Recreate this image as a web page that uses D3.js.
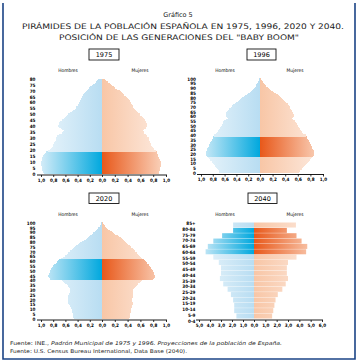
<!DOCTYPE html>
<html>
<head>
<meta charset="utf-8">
<script src="https://cdn.jsdelivr.net/npm/d3@7"></script>
<style>
body { margin: 0; background: #fff; }
svg { display: block; }
</style>
</head>
<body>
<svg id="grafico"></svg>
<script>
// Datos: porcentaje de población por año de edad (índice = edad)
const hombres1975 = [0.95,0.97,0.97,0.98,0.98,0.99,0.99,1.00,1.00,1.00,
	1.00,0.99,0.99,0.98,0.97,0.96,0.95,0.93,0.91,0.88,
	0.86,0.84,0.82,0.81,0.80,0.79,0.78,0.77,0.76,0.75,
	0.76,0.74,0.73,0.70,0.66,0.64,0.62,0.65,0.68,0.70,
	0.72,0.70,0.71,0.70,0.69,0.66,0.63,0.61,0.59,0.57,
	0.56,0.52,0.50,0.48,0.45,0.43,0.42,0.40,0.39,0.38,
	0.38,0.36,0.35,0.34,0.33,0.32,0.31,0.30,0.28,0.26,
	0.25,0.23,0.21,0.19,0.16,0.14,0.12,0.10,0.09,0.06];
const mujeres1975 = [0.89,0.89,0.89,0.90,0.90,0.91,0.92,0.92,0.92,0.92,
	0.92,0.91,0.90,0.89,0.88,0.87,0.87,0.86,0.86,0.84,
	0.82,0.81,0.79,0.78,0.77,0.76,0.75,0.75,0.74,0.73,
	0.73,0.71,0.70,0.68,0.66,0.65,0.64,0.66,0.68,0.69,
	0.71,0.70,0.70,0.69,0.68,0.67,0.65,0.64,0.62,0.60,
	0.59,0.56,0.55,0.53,0.51,0.50,0.49,0.48,0.47,0.45,
	0.45,0.43,0.42,0.40,0.39,0.37,0.35,0.33,0.31,0.29,
	0.28,0.24,0.21,0.19,0.16,0.14,0.12,0.09,0.07,0.05];

const hombres1996 = [0.69,0.70,0.70,0.71,0.72,0.73,0.74,0.76,0.77,0.78,
	0.79,0.81,0.82,0.84,0.85,0.87,0.88,0.89,0.91,0.92,
	0.92,0.92,0.91,0.90,0.90,0.89,0.89,0.88,0.87,0.87,
	0.86,0.85,0.84,0.83,0.82,0.81,0.80,0.80,0.79,0.78,
	0.78,0.76,0.74,0.73,0.72,0.71,0.69,0.68,0.67,0.66,
	0.65,0.64,0.63,0.62,0.62,0.61,0.58,0.55,0.54,0.56,
	0.58,0.58,0.58,0.58,0.57,0.56,0.55,0.53,0.52,0.50,
	0.48,0.47,0.45,0.43,0.41,0.40,0.38,0.36,0.34,0.32,
	0.30,0.27,0.25,0.22,0.20,0.17,0.15,0.13,0.12,0.10,
	0.08,0.07,0.07,0.06,0.06,0.05,0.04,0.03,0.02,0.02,0.01];
const mujeres1996 = [0.62,0.63,0.64,0.65,0.66,0.67,0.69,0.70,0.72,0.73,
	0.75,0.76,0.78,0.79,0.80,0.81,0.82,0.84,0.85,0.86,
	0.86,0.86,0.86,0.85,0.85,0.84,0.83,0.83,0.82,0.81,
	0.81,0.80,0.79,0.78,0.77,0.76,0.75,0.75,0.74,0.73,
	0.73,0.71,0.69,0.67,0.66,0.65,0.64,0.63,0.62,0.61,
	0.60,0.59,0.58,0.57,0.56,0.55,0.53,0.51,0.50,0.52,
	0.54,0.54,0.54,0.53,0.52,0.51,0.50,0.49,0.48,0.48,
	0.47,0.46,0.45,0.44,0.42,0.41,0.40,0.38,0.37,0.35,
	0.34,0.32,0.30,0.28,0.25,0.22,0.20,0.18,0.16,0.15,
	0.13,0.12,0.10,0.09,0.08,0.07,0.05,0.04,0.03,0.02,0.01];

const hombres2020 = [0.46,0.47,0.47,0.47,0.48,0.48,0.48,0.49,0.49,0.50,
	0.50,0.51,0.51,0.52,0.53,0.54,0.55,0.55,0.55,0.55,
	0.55,0.55,0.55,0.55,0.55,0.54,0.54,0.53,0.53,0.52,
	0.52,0.52,0.53,0.54,0.55,0.56,0.58,0.60,0.62,0.64,
	0.66,0.85,0.86,0.87,0.88,0.88,0.87,0.87,0.86,0.85,
	0.85,0.84,0.83,0.82,0.81,0.80,0.78,0.76,0.74,0.73,
	0.72,0.70,0.69,0.67,0.64,0.61,0.60,0.58,0.56,0.55,
	0.53,0.52,0.50,0.48,0.46,0.45,0.42,0.40,0.38,0.36,
	0.33,0.30,0.27,0.25,0.23,0.22,0.20,0.18,0.17,0.15,
	0.14,0.12,0.10,0.09,0.07,0.06,0.04,0.03,0.02,0.02,0.01];
const mujeres2020 = [0.42,0.43,0.43,0.43,0.44,0.44,0.44,0.45,0.45,0.46,
	0.46,0.46,0.47,0.47,0.47,0.48,0.48,0.48,0.47,0.47,
	0.47,0.47,0.48,0.48,0.48,0.48,0.49,0.49,0.49,0.49,
	0.49,0.49,0.50,0.52,0.53,0.54,0.56,0.57,0.59,0.61,
	0.63,0.80,0.82,0.83,0.83,0.83,0.82,0.82,0.81,0.80,
	0.79,0.78,0.77,0.76,0.75,0.74,0.73,0.71,0.70,0.69,
	0.67,0.66,0.64,0.63,0.61,0.60,0.58,0.56,0.55,0.54,
	0.52,0.51,0.50,0.48,0.46,0.45,0.43,0.41,0.39,0.38,
	0.36,0.34,0.33,0.31,0.29,0.27,0.25,0.23,0.21,0.19,
	0.17,0.15,0.12,0.09,0.08,0.07,0.05,0.04,0.03,0.02,0.01];

// 2040: grupos quinquenales
const grupos2040 = ["0-4","5-9","10-14","15-19","20-24","25-29","30-34","35-39","40-44",
	"45-49","50-54","55-59","60-64","65-69","70-74","75-79","80-84","85+"];
const hombres2040 = [1.6,1.8,1.8,1.9,2.1,2.4,2.8,3.1,3.0,3.0,3.2,3.7,4.4,4.2,3.7,2.9,1.9,1.9];
const mujeres2040 = [1.6,1.7,1.8,1.9,2.1,2.5,2.8,3.0,2.9,2.9,3.0,3.75,4.6,4.7,4.2,3.75,2.9,3.7];
const boom2040 = ["60-64","65-69","70-74","75-79","80-84"];

// Etiquetas de ejes
const edades80 = [0,5,10,15,20,25,30,35,40,45,50,55,60,65,70,75,80];
const edades100 = [0,5,10,15,20,25,30,35,40,45,50,55,60,65,70,75,80,85,90,95,100];
const ticksUno = [-1,-0.8,-0.6,-0.4,-0.2,0,0.2,0.4,0.6,0.8,1];
const ticksSeis = [-5,-4,-3,-2,-1,0,1,2,3,4,5,6];

const WIDTH = 360, HEIGHT = 364;
const FUENTE = "'DejaVu Sans', sans-serif";
const FUENTE_COND = "'DejaVu Sans Condensed', 'DejaVu Sans', sans-serif";

const colores = {
	hBoom: ["#00a8de", "#d4ecf8"],
	hBase: ["#b8ddf2", "#eaf5fb"],
	mBoom: ["#e8581a", "#fbd9c4"],
	mBase: ["#f8c6a6", "#fdece2"]
};

const svg = d3.select("#grafico")
	.attr("width", WIDTH)
	.attr("height", HEIGHT);

const defs = svg.append("defs");

// Marco
svg.append("path")
	.attr("d", "M3,3V359H355V3")
	.attr("fill", "none")
	.attr("stroke", "#1b4486")
	.attr("stroke-width", 1.6);

// Títulos
const titulos = svg.append("g").attr("fill", "#1a1a1a").style("font-family", FUENTE);
titulos.append("text")
	.attr("x", 178).attr("y", 17)
	.attr("text-anchor", "middle")
	.attr("font-size", 6.5)
	.text("Gráfico 5");
titulos.append("text")
	.attr("x", 22).attr("y", 29)
	.attr("font-size", 7.6)
	.attr("textLength", 322)
	.attr("lengthAdjust", "spacingAndGlyphs")
	.text("PIRÁMIDES DE LA POBLACIÓN ESPAÑOLA EN 1975, 1996, 2020 Y 2040.");
titulos.append("text")
	.attr("x", 59).attr("y", 40)
	.attr("font-size", 7.6)
	.attr("textLength", 240)
	.attr("lengthAdjust", "spacingAndGlyphs")
	.text("POSICIÓN DE LAS GENERACIONES DEL \"BABY BOOM\"");

const fuentes = svg.append("g").attr("fill", "#1a1a1a").style("font-family", FUENTE).attr("font-size", 5.2);
const f1 = fuentes.append("text").attr("x", 10).attr("y", 345)
	.attr("textLength", 272).attr("lengthAdjust", "spacingAndGlyphs");
f1.append("tspan").text("Fuente: INE., ");
f1.append("tspan").attr("font-style", "italic").text("Padrón Municipal de 1975 y 1996. Proyecciones de la población de España.");
fuentes.append("text").attr("x", 10).attr("y", 353)
	.attr("textLength", 177).attr("lengthAdjust", "spacingAndGlyphs")
	.text("Fuente: U.S. Census Bureau International, Data Base (2040).");

const formatoTick = d => Math.abs(d).toFixed(1).replace(".", ",");

const gradiente = (id, xa, xb, par) => {
	const lg = defs.append("linearGradient")
		.attr("id", id)
		.attr("gradientUnits", "userSpaceOnUse")
		.attr("x1", xa).attr("x2", xb)
		.attr("y1", 0).attr("y2", 0);
	lg.append("stop").attr("offset", 0).attr("stop-color", par[0]);
	lg.append("stop").attr("offset", 1).attr("stop-color", par[1]);
};

const cabecera = (g, p) => {
	g.append("rect")
		.attr("x", p.caja[0]).attr("y", p.caja[1])
		.attr("width", p.caja[2]).attr("height", p.caja[3])
		.attr("fill", "#fff").attr("stroke", "#111").attr("stroke-width", 0.9);
	g.append("text")
		.attr("x", p.caja[0] + p.caja[2] / 2).attr("y", p.caja[1] + p.caja[3] / 2 + 2.3)
		.attr("text-anchor", "middle")
		.attr("font-size", 6.5)
		.style("font-family", FUENTE)
		.text(p.anio);
	g.append("text")
		.attr("x", p.hombresX).attr("y", p.sexoY)
		.attr("text-anchor", "middle").attr("font-size", 4.8)
		.style("font-family", FUENTE_COND)
		.text("Hombres");
	g.append("text")
		.attr("x", p.mujeresX).attr("y", p.sexoY)
		.attr("text-anchor", "middle").attr("font-size", 4.8)
		.style("font-family", FUENTE_COND)
		.text("Mujeres");
};

const ejeX = (g, x, ticks, yEje, extremos) => {
	const eje = g.append("g")
		.attr("transform", `translate(0 ${yEje})`)
		.call(d3.axisBottom(x).tickValues(ticks).tickSize(2).tickPadding(1.5).tickFormat(formatoTick));
	eje.select(".domain").attr("d", `M${extremos[0]},0H${extremos[1]}`).attr("stroke-width", 0.9);
	eje.selectAll(".tick line").attr("stroke-width", 0.8);
	eje.selectAll(".tick text")
		.attr("font-size", 4.6)
		.attr("font-weight", "bold")
		.style("font-family", FUENTE_COND);
};

// Pirámides por año simple
const piramide = (p) => {
	const g = svg.append("g");
	const x = d3.scaleLinear().domain([-1, 0, 1]).range(p.xRan);
	const y = d3.scaleLinear().domain([0, p.edadMax]).range(p.yRan);
	const x0 = x(0);

	gradiente(p.id + "-hb", x0, x(-1), colores.hBoom);
	gradiente(p.id + "-hn", x0, x(-1), colores.hBase);
	gradiente(p.id + "-mb", x0, x(1), colores.mBoom);
	gradiente(p.id + "-mn", x0, x(1), colores.mBase);

	const esBoom = edad => edad >= p.boom[0] && edad <= p.boom[1];

	g.append("g").attr("shape-rendering", "crispEdges").selectAll("rect")
		.data(p.hombres)
		.join("rect")
		.attr("x", d => x(-d))
		.attr("width", d => x0 - x(-d))
		.attr("y", (d, i) => y(i + 1))
		.attr("height", (d, i) => y(i) - y(i + 1) + 0.3)
		.attr("fill", (d, i) => esBoom(i) ? `url(#${p.id}-hb)` : `url(#${p.id}-hn)`);

	g.append("g").attr("shape-rendering", "crispEdges").selectAll("rect")
		.data(p.mujeres)
		.join("rect")
		.attr("x", x0)
		.attr("width", d => x(d) - x0)
		.attr("y", (d, i) => y(i + 1))
		.attr("height", (d, i) => y(i) - y(i + 1) + 0.3)
		.attr("fill", (d, i) => esBoom(i) ? `url(#${p.id}-mb)` : `url(#${p.id}-mn)`);

	g.append("g").selectAll("text")
		.data(p.etiquetas)
		.join("text")
		.attr("x", p.xEtiq)
		.attr("y", d => y(d) + 1.7)
		.attr("text-anchor", "end")
		.attr("font-size", 4.6)
		.attr("font-weight", "bold")
		.style("font-family", FUENTE_COND)
		.text(d => d);

	ejeX(g, x, ticksUno, p.yEje, [p.xRan[0] - 4, p.xRan[2] + 1]);
	cabecera(g, p);
};

piramide({
	id: "p1975", anio: "1975", hombres: hombres1975, mujeres: mujeres1975,
	boom: [0, 18], edadMax: 80, etiquetas: edades80,
	xRan: [41, 102, 166], yRan: [174, 79], yEje: 175, xEtiq: 35.5,
	caja: [89, 49, 30, 11], hombresX: 68, mujeresX: 140, sexoY: 72
});
piramide({
	id: "p1996", anio: "1996", hombres: hombres1996, mujeres: mujeres1996,
	boom: [17, 38], edadMax: 100, etiquetas: edades100,
	xRan: [201, 260, 323], yRan: [173, 79], yEje: 174.5, xEtiq: 196,
	caja: [247, 49, 29, 11], hombresX: 225, mujeresX: 295, sexoY: 72
});
piramide({
	id: "p2020", anio: "2020", hombres: hombres2020, mujeres: mujeres2020,
	boom: [41, 62], edadMax: 100, etiquetas: edades100,
	xRan: [41, 102, 166], yRan: [319, 223], yEje: 320, xEtiq: 35.5,
	caja: [89, 193, 30, 10.5], hombresX: 68, mujeresX: 140, sexoY: 216
});

// Pirámide 2040 por grupos quinquenales
const p40 = {
	id: "p2040", anio: "2040", caja: [248, 193, 29, 10.5],
	hombresX: 225, mujeresX: 295, sexoY: 216
};
const g40 = svg.append("g");
const x40 = d3.scaleLinear().domain([-5, 0, 6]).range([199, 254, 322]);
const y40 = d3.scaleBand().domain(grupos2040.slice().reverse()).range([222.5, 318.5]).paddingInner(0.06);
const yEtiq40 = d3.scalePoint().domain(grupos2040.slice().reverse()).range([223.5, 321]);
const c40 = x40(0);

gradiente("p2040-hb", c40, x40(-5), colores.hBoom);
gradiente("p2040-hn", c40, x40(-5), colores.hBase);
gradiente("p2040-mb", c40, x40(6), colores.mBoom);
gradiente("p2040-mn", c40, x40(6), colores.mBase);

g40.append("g").selectAll("rect")
	.data(grupos2040)
	.join("rect")
	.attr("x", (d, i) => x40(-hombres2040[i]))
	.attr("width", (d, i) => c40 - x40(-hombres2040[i]))
	.attr("y", d => y40(d))
	.attr("height", y40.bandwidth())
	.attr("fill", d => boom2040.includes(d) ? "url(#p2040-hb)" : "url(#p2040-hn)");

g40.append("g").selectAll("rect")
	.data(grupos2040)
	.join("rect")
	.attr("x", c40)
	.attr("width", (d, i) => x40(mujeres2040[i]) - c40)
	.attr("y", d => y40(d))
	.attr("height", y40.bandwidth())
	.attr("fill", d => boom2040.includes(d) ? "url(#p2040-mb)" : "url(#p2040-mn)");

g40.append("g").selectAll("text")
	.data(grupos2040)
	.join("text")
	.attr("x", 195.5)
	.attr("y", d => yEtiq40(d) + 1.7)
	.attr("text-anchor", "end")
	.attr("font-size", 4.6)
	.attr("font-weight", "bold")
	.style("font-family", FUENTE_COND)
	.text(d => d);

ejeX(g40, x40, ticksSeis, 320, [196, 323]);
cabecera(g40, p40);
</script>
</body>
</html>
